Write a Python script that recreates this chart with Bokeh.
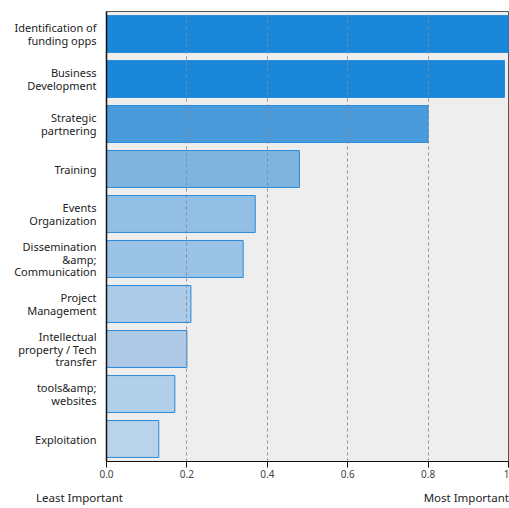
from bokeh.plotting import figure
from bokeh.layouts import column
from bokeh.models import FactorRange, Range1d, FixedTicker, Div
from bokeh.embed import file_html
from bokeh.resources import INLINE

categories = [
    "Identification of\nfunding opps",
    "Business\nDevelopment",
    "Strategic\npartnering",
    "Training",
    "Events\nOrganization",
    "Dissemination\n&amp;\nCommunication",
    "Project\nManagement",
    "Intellectual\nproperty / Tech\ntransfer",
    "tools&amp;\nwebsites",
    "Exploitation",
]
values = [1.0, 0.99, 0.80, 0.48, 0.37, 0.34, 0.21, 0.20, 0.17, 0.13]
colors = ["#1a87d9", "#1a87d9", "#4a9bdb", "#7fb4df", "#93bfe4",
          "#9bc3e5", "#abcbe9", "#adc9e5", "#b3d0ea", "#b8d3ea"]
tick_values = [0.0, 0.2, 0.4, 0.6, 0.8, 1.0]
tick_labels = ["0.0", "0.2", "0.4", "0.6", "0.8", "1"]
scale_labels = ["Least Important", "Most Important"]

FONT = "Noto Sans"
W = 509

p = figure(
    width=W, height=480,
    y_range=FactorRange(factors=list(reversed(categories)), range_padding=0),
    x_range=Range1d(0, 1),
    output_backend="svg", toolbar_location=None,
    min_border_left=106, min_border_right=1, min_border_top=11, min_border_bottom=10,
    background_fill_color="#eeeeee",
    outline_line_color="#555555", outline_line_width=1,
)

p.hbar(y=categories, right=values, left=0, height=0.82,
       fill_color=colors, line_color="#2a8ad8", line_width=1)

p.ygrid.grid_line_color = None
p.xgrid.ticker = FixedTicker(ticks=tick_values[1:-1])
p.xgrid.grid_line_color = "#888888"
p.xgrid.grid_line_dash = "3 3"
p.xgrid.grid_line_alpha = 0.9
p.xgrid.level = "overlay"

p.xaxis.ticker = FixedTicker(ticks=tick_values)
p.xaxis.major_label_overrides = {v: t for v, t in zip(tick_values, tick_labels)}
p.xaxis.minor_tick_line_color = None
p.xaxis.major_tick_out = 6
p.xaxis.major_tick_in = 0
p.xaxis.major_label_standoff = 2
p.xaxis.major_label_text_font = FONT
p.xaxis.major_label_text_font_size = "10px"
p.xaxis.major_label_text_color = "#444444"
p.xaxis.axis_line_color = "#111111"
p.xaxis.major_tick_line_color = "#111111"

p.yaxis.major_tick_line_color = None
p.yaxis.minor_tick_line_color = None
p.yaxis.major_label_standoff = 4
p.yaxis.major_label_text_font = FONT
p.yaxis.major_label_text_font_size = "11px"
p.yaxis.major_label_text_line_height = 0.85
p.yaxis.major_label_text_color = "#222222"
p.yaxis.axis_line_color = "#111111"
p.yaxis.axis_line_width = 1.5

span = ("position:absolute;top:5px;line-height:16px;font-family:'Noto Sans';"
        "font-size:11.5px;color:#222222;white-space:nowrap;")
footer = Div(
    width=W, height=24,
    text=(f'<div style="position:relative;width:{W}px;height:22px;">'
          f'<span style="{span}left:31px;">{scale_labels[0]}</span>'
          f'<span style="{span}right:5px;">{scale_labels[1]}</span></div>'),
)

open("out.html", "w").write(file_html(column(p, footer, spacing=0), INLINE))
